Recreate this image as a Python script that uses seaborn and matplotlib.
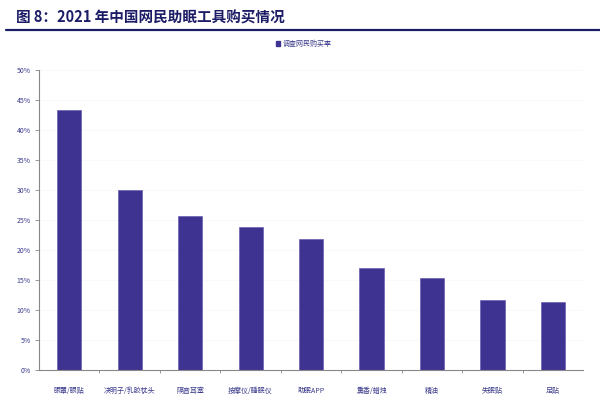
import numpy as np
import pandas as pd
import seaborn as sns
import matplotlib.pyplot as plt
from matplotlib.ticker import FuncFormatter, FixedLocator
from matplotlib.lines import Line2D

# data
categories = ['眼罩/眼贴', '决明子/乳胶枕头', '隔音耳塞', '按摩仪/睡眠仪', '助眠APP',
              '熏香/蜡烛', '精油', '失眠贴', '足贴']
rates = [43.4, 30.0, 25.7, 23.8, 21.8, 17.0, 15.3, 11.7, 11.3]
series_name = '调查网民购买率'
title = '图 8：2021 年中国网民助眠工具购买情况'

bar_color = '#3F3391'
text_color = '#3A3A8C'
navy = '#1C1C66'

sns.set_theme(style='white')
plt.rcParams['font.family'] = ['Noto Sans CJK SC', 'DejaVu Sans']

df = pd.DataFrame({'cat': categories, 'rate': rates})

fig = plt.figure(figsize=(6, 4), dpi=100)
ax = fig.add_axes([0.065, 0.075, 0.907, 0.75])

sns.barplot(data=df, x='cat', y='rate', color=bar_color, width=0.4,
            saturation=1, edgecolor='#6A5FB5', linewidth=0.5, ax=ax)

ax.set_ylim(0, 50)
ax.set_xlim(-0.5, len(categories) - 0.5)
ax.set_yticks(np.arange(0, 51, 5))
ax.yaxis.set_major_formatter(FuncFormatter(lambda v, p: f'{v:.0f}%'))
ax.xaxis.set_minor_locator(FixedLocator(np.arange(0.5, len(categories) - 1, 1)))
ax.tick_params(axis='y', which='major', left=True, length=3, width=0.6, color='#888888',
               labelsize=5, labelcolor=text_color, pad=3)
ax.tick_params(axis='x', which='major', bottom=False, labelsize=5, labelcolor=text_color, pad=6)
ax.tick_params(axis='x', which='minor', bottom=True, length=2.5, width=0.6, color='#888888')
ax.set_xlabel('')
ax.set_ylabel('')
for y in np.arange(5, 51, 5):
    ax.axhline(y, color='#f8f8f8', lw=0.6, zorder=0)
sns.despine(ax=ax)
for s in ['left', 'bottom']:
    ax.spines[s].set_color('#888888')
    ax.spines[s].set_linewidth(0.8)

# title and rule
fig.text(0.027, 0.957, title, fontsize=10.5, fontweight='bold', color=navy, va='center')
fig.add_artist(Line2D([0.01, 1.0], [0.925, 0.925], color=navy, lw=1.6))

# legend
handle = plt.Rectangle((0, 0), 1, 1, color=bar_color)
fig.legend([handle], [series_name], loc='center', bbox_to_anchor=(0.507, 0.89),
           frameon=False, fontsize=5, labelcolor=text_color, handlelength=0.6,
           handleheight=0.6, handletextpad=0.4)

fig.savefig('out.png', dpi=100)
